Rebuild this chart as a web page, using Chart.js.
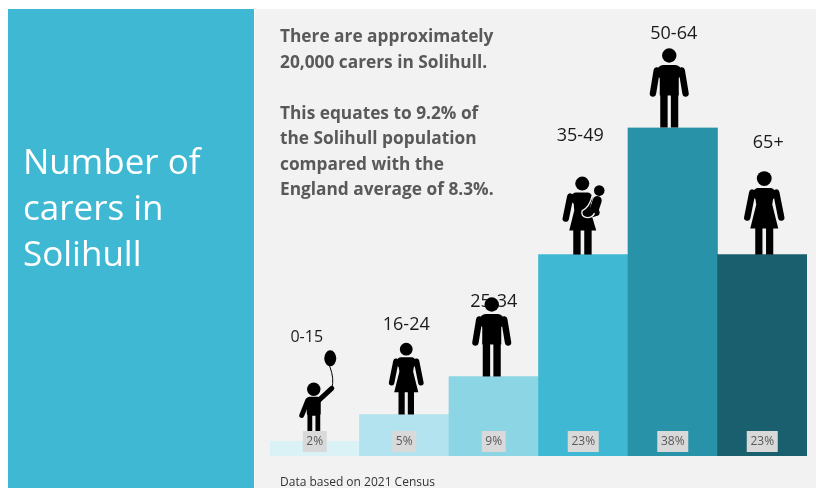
<!DOCTYPE html>
<html>
<head>
<meta charset="utf-8">
<title>Number of carers in Solihull</title>
<script src="https://cdn.jsdelivr.net/npm/chart.js@4/dist/chart.umd.min.js"></script>
<style>
    html, body { margin: 0; padding: 0; background: #fff; overflow: hidden; }
    #page { position: relative; width: 816px; height: 488px; font-family: "Open Sans", sans-serif; }
    #side { position: absolute; left: 8px; top: 9px; width: 246px; height: 479px; background: #3fb8d3; }
    #main { position: absolute; left: 255px; top: 9px; width: 561px; height: 479px; background: #f2f2f2; }
    #title { position: absolute; left: 23px; top: 138px; color: #fff; font-size: 35px; line-height: 46px; }
    #intro { position: absolute; left: 280px; top: 23px; color: #595959; font-size: 17.3px; font-weight: 700; line-height: 25.5px; white-space: pre; }
    #note { position: absolute; left: 280px; top: 474px; color: #333; font-size: 12px; line-height: 15px; }
    canvas { position: absolute; left: 0; top: 0; }
</style>
</head>
<body>
<div id="page">
    <div id="side"></div>
    <div id="main"></div>
    <canvas id="carersChart" width="816" height="488"></canvas>
    <div id="title">Number of<br>carers in<br>Solihull</div>
    <div id="intro">There are approximately
20,000 carers in Solihull.

This equates to 9.2% of
the Solihull population
compared with the
England average of 8.3%.</div>
    <div id="note">Data based on 2021 Census</div>
</div>
<script>
const ageGroups = ['0-15', '16-24', '25-34', '35-49', '50-64', '65+'];
const carerShare = [1.7, 4.8, 9.2, 23.3, 38, 23.3];
const shareLabels = ['2%', '5%', '9%', '23%', '38%', '23%'];
const figures = ['child', 'woman', 'man', 'mother', 'man', 'woman'];

const barColors = ['#daf1f6', '#b3e3ee', '#8bd5e4', '#3fb8d3', '#2892a9', '#1a5f6e'];

// offsets from the top centre of each bar, the picture places them by hand
const labelDx = [-8, 2, 0, -3, 1, 6];
const labelDy = [-104, -89.5, -75, -119, -93.5, -112];
const labelSize = [16, 18, 18, 18, 18, 18];
const figureDx = [-1, 2, -2, -1, -3.5, 2];
const figureScale = [1, 0.86, 1, 1, 1, 1];

function limb(ctx, x1, y1, x2, y2, w) {
    ctx.lineWidth = w;
    ctx.lineCap = 'round';
    ctx.beginPath();
    ctx.moveTo(x1, y1);
    ctx.lineTo(x2, y2);
    ctx.stroke();
}

function head(ctx, x, y, r) {
    ctx.beginPath();
    ctx.arc(x, y, r, 0, Math.PI * 2);
    ctx.fill();
}

function torso(ctx, points) {
    ctx.beginPath();
    points.forEach(function (p, i) {
        if (i === 0) ctx.moveTo(p[0], p[1]);
        else ctx.lineTo(p[0], p[1]);
    });
    ctx.closePath();
    ctx.fill();
}

const drawFigure = {
    man(ctx) {
        head(ctx, 0, -72, 7.2);
        ctx.beginPath();
        ctx.roundRect(-12, -62.5, 24, 14, 6);
        ctx.fill();
        ctx.fillRect(-9.5, -56, 19, 24);
        limb(ctx, -12.5, -57, -16.3, -34, 6.4);
        limb(ctx, 12.5, -57, 16.3, -34, 6.4);
        ctx.fillRect(-9, -36, 7.4, 36);
        ctx.fillRect(1.6, -36, 7.4, 36);
    },
    woman(ctx) {
        head(ctx, 0, -76, 7.4);
        ctx.beginPath();
        ctx.roundRect(-11, -66.5, 22, 12, 5);
        ctx.fill();
        torso(ctx, [[-9.5, -60], [9.5, -60], [8, -50], [14, -26], [-14, -26], [-8, -50]]);
        limb(ctx, -12, -62, -17, -37, 6.4);
        limb(ctx, 12, -62, 17, -37, 6.4);
        ctx.fillRect(-9, -28, 7.2, 28);
        ctx.fillRect(1.8, -28, 7.2, 28);
    },
    mother(ctx) {
        head(ctx, 0, -71, 7);
        ctx.beginPath();
        ctx.roundRect(-11, -62, 21, 12, 5);
        ctx.fill();
        torso(ctx, [[-9, -56], [9, -56], [8, -44], [14, -24], [-13, -24], [-8, -44]]);
        limb(ctx, -12, -58, -16.5, -36, 6.4);
        ctx.fillRect(-9, -26, 7.4, 26);
        ctx.fillRect(2, -26, 7.4, 26);
        // baby on the hip
        head(ctx, 17, -64, 5.3);
        limb(ctx, 15, -54, 11, -42, 9);
        head(ctx, 14, -42, 3.4);
        ctx.save();
        ctx.strokeStyle = '#f2f2f2';
        ctx.lineWidth = 1.4;
        ctx.beginPath();
        ctx.moveTo(10, -59);
        ctx.quadraticCurveTo(7, -47, 0, -44);
        ctx.quadraticCurveTo(-2, -38, 5, -37);
        ctx.quadraticCurveTo(10, -37, 12, -41);
        ctx.stroke();
        ctx.restore();
    },
    child(ctx) {
        head(ctx, 0, -52, 6.7);
        ctx.beginPath();
        ctx.roundRect(-7, -44.5, 14, 19, 3);
        ctx.fill();
        limb(ctx, -6, -41, -12, -26, 5);
        limb(ctx, 5, -41, 18, -53, 5);
        ctx.fillRect(-6.3, -28, 4.8, 28);
        ctx.fillRect(1.7, -28, 4.8, 28);
        // balloon and its string
        ctx.lineWidth = 1;
        ctx.beginPath();
        ctx.moveTo(18, -53);
        ctx.quadraticCurveTo(21, -62, 16, -75);
        ctx.stroke();
        ctx.beginPath();
        ctx.ellipse(16.5, -83, 6, 8, 0, 0, Math.PI * 2);
        ctx.fill();
    }
};

const carerOverlay = {
    id: 'carerOverlay',
    afterDatasetsDraw(chart) {
        const ctx = chart.ctx;
        const bars = chart.getDatasetMeta(0).data;
        const bottom = chart.scales.y.getPixelForValue(0);
        ctx.save();
        ctx.textAlign = 'center';
        ctx.textBaseline = 'middle';
        bars.forEach(function (bar, i) {
            ctx.fillStyle = '#1a1a1a';
            ctx.font = labelSize[i] + 'px "Open Sans"';
            ctx.fillText(ageGroups[i], bar.x + labelDx[i], bar.y + labelDy[i]);
        });
        bars.forEach(function (bar, i) {
            ctx.save();
            ctx.translate(bar.x + figureDx[i], bar.y);
            ctx.scale(figureScale[i], figureScale[i]);
            ctx.fillStyle = '#000';
            ctx.strokeStyle = '#000';
            drawFigure[figures[i]](ctx);
            ctx.restore();
        });
        bars.forEach(function (bar, i) {
            const w = shareLabels[i].length > 2 ? 31 : 24;
            ctx.fillStyle = '#d9d9d9';
            ctx.fillRect(bar.x - w / 2, bottom - 25, w, 21);
            ctx.fillStyle = '#595959';
            ctx.font = '12px "Open Sans"';
            ctx.fillText(shareLabels[i], bar.x, bottom - 14);
        });
        ctx.restore();
    }
};

const carersConfig = {
    type: 'bar',
    data: {
        labels: ageGroups,
        datasets: [{
            data: carerShare,
            backgroundColor: barColors,
            borderWidth: 0,
            barPercentage: 1,
            categoryPercentage: 1
        }]
    },
    options: {
        responsive: false,
        animation: false,
        layout: {
            padding: { left: 270, right: 9, top: 127.5, bottom: 32 }
        },
        plugins: {
            legend: { display: false },
            tooltip: { enabled: false }
        },
        scales: {
            x: { display: false },
            y: { display: false, min: 0, max: 38 }
        }
    },
    plugins: [carerOverlay]
};

const carersChart = new Chart(document.getElementById('carersChart'), carersConfig);
</script>
</body>
</html>
